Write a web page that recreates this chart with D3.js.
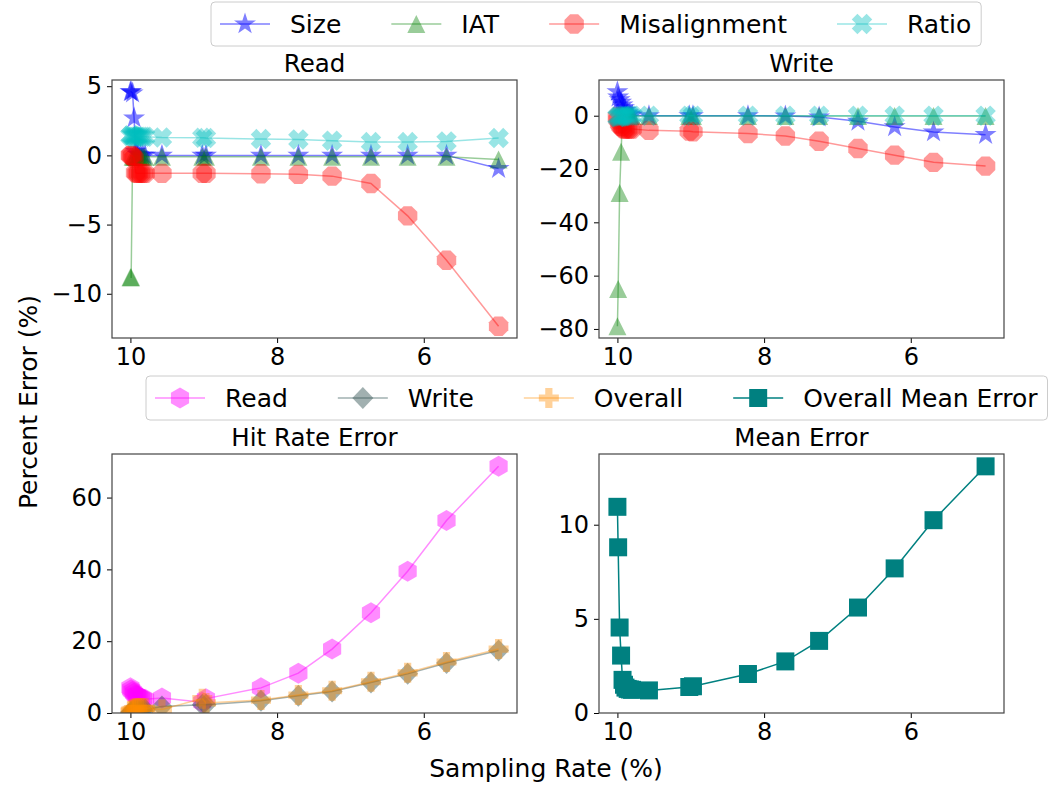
<!DOCTYPE html>
<html>
<head>
<meta charset="utf-8">
<script src="https://cdn.jsdelivr.net/npm/d3@7"></script>
<style>
  body { margin: 0; background: #fff; }
  text { font-family: "DejaVu Sans", sans-serif; }
</style>
</head>
<body>
<svg id="chart"></svg>
<script>
const width = 1051;
const height = 786;
const fontSize = 24;
const legendFont = 25;

// sampling rate (%) for every run, left to right
const samplingRate = [10.0, 9.99, 9.97, 9.95, 9.93, 9.91, 9.89, 9.86, 9.83, 9.8, 9.57, 9.02, 8.97, 8.22, 7.71, 7.25, 6.72, 6.22, 5.69, 4.98];

const readSize = [4.6, 4.6, 4.5, 2.7, 0.3, 0.1, 0.05, 0, 0, 0, 0, 0, 0, 0, 0, 0, 0, 0, 0, -0.95];
const readIat = [-8.8, -8.8, -0.1, -0.1, -0.1, -0.1, -0.1, -0.1, -0.1, -0.1, -0.1, -0.1, -0.1, -0.1, -0.1, -0.1, -0.1, -0.1, -0.1, -0.3];
const readMisalignment = [0, 0, -0.05, -0.2, -1.25, -1.3, -1.3, -1.3, -1.3, -1.3, -1.3, -1.3, -1.3, -1.33, -1.37, -1.5, -2.03, -4.37, -7.58, -12.35];
const readRatio = [1.4, 1.45, 1.4, 1.35, 1.35, 1.35, 1.35, 1.35, 1.35, 1.35, 1.3, 1.27, 1.25, 1.18, 1.15, 1.06, 0.96, 0.96, 1.01, 1.25];

const writeSize = [9.0, 7.0, 6.0, 5.0, 4.0, 3.0, 2.0, 1.0, 0.5, 0.2, 0, 0, 0, 0, -0.1, -0.5, -2.1, -4.2, -6.1, -7.1];
const writeIat = [-79, -65, -29, -13.5, -0.5, -0.3, -0.2, -0.1, -0.1, -0.1, -0.1, -0.1, -0.1, -0.1, -0.1, -0.1, -0.1, -0.1, -0.1, -0.1];
const writeMisalignment = [-0.5, -1.5, -3.0, -4.0, -4.5, -5.0, -5.0, -5.0, -5.0, -5.0, -5.5, -5.8, -6.0, -6.7, -7.6, -9.6, -12.3, -14.8, -17.5, -18.9];
const writeRatio = [-0.5, -0.5, -0.4, -0.3, -0.2, -0.1, 0, 0, 0, 0, 0, 0, 0, 0, 0, 0, 0, 0, 0, 0];

const hitRead = [7.0, 6.5, 6.0, 5.5, 5.0, 4.8, 4.5, 4.2, 4.0, 3.8, 4.2, 3.0, 4.0, 7.0, 11.1, 17.8, 27.9, 39.5, 53.6, 68.7];
const hitWrite = [0.2, 0.3, 0.5, 0.6, 0.7, 0.8, 0.8, 0.8, 0.9, 0.9, 1.8, 2.3, 2.3, 3.4, 4.8, 6.0, 8.5, 10.9, 13.9, 17.4];
const hitOverall = [0.5, 0.8, 1.0, 1.2, 1.3, 1.3, 1.3, 1.3, 1.3, 1.3, 1.0, 4.0, 2.8, 3.6, 5.0, 6.2, 8.7, 11.2, 14.2, 17.8];
const meanError = [10.95, 8.8, 4.54, 3.05, 1.76, 1.5, 1.35, 1.28, 1.25, 1.23, 1.2, 1.38, 1.42, 2.07, 2.74, 3.83, 5.6, 7.68, 10.24, 13.1];

const xTicks = [10, 8, 6];
const readTicks = [5, 0, -5, -10];
const writeTicks = [0, -20, -40, -60, -80];
const hitTicks = [0, 20, 40, 60];
const meanTicks = [0, 5, 10];

const svg = d3.select('#chart')
    .attr('width', width)
    .attr('height', height);

function polygon(n, r, rot) {
    const pts = d3.range(n).map(i => {
        const a = -Math.PI / 2 + rot + i * 2 * Math.PI / n;
        return [r * Math.cos(a), r * Math.sin(a)];
    });
    return 'M' + pts.map(p => p.join(',')).join('L') + 'Z';
}

function plusPath(l, w) {
    return `M${-w},${-l}H${w}V${-w}H${l}V${w}H${w}V${l}H${-w}V${w}H${-l}V${-w}H${-w}Z`;
}

const markers = {
    star: { d: d3.symbol(d3.symbolStar, 150)(), rot: 0 },
    triangle: { d: 'M0,-9L9,9L-9,9Z', rot: 0 },
    octagon: { d: polygon(8, 10.5, Math.PI / 8), rot: 0 },
    x: { d: plusPath(10.5, 4), rot: 45 },
    hexagon: { d: polygon(6, 10.5, 0), rot: 0 },
    diamond: { d: 'M0,-11L10.5,0L0,11L-10.5,0Z', rot: 0 },
    plus: { d: plusPath(10, 3.6), rot: 0 },
    square: { d: 'M-9,-9H9V9H-9Z', rot: 0 }
};

const sizeStyle = { name: 'Size', color: '#0000ff', alpha: 0.5, marker: 'star' };
const iatStyle = { name: 'IAT', color: '#008000', alpha: 0.4, marker: 'triangle' };
const misStyle = { name: 'Misalignment', color: '#ff0000', alpha: 0.4, marker: 'octagon' };
const ratioStyle = { name: 'Ratio', color: '#00bfbf', alpha: 0.4, marker: 'x' };
const readStyle = { name: 'Read', color: '#ff00ff', alpha: 0.45, marker: 'hexagon' };
const writeStyle = { name: 'Write', color: '#2f4f4f', alpha: 0.45, marker: 'diamond' };
const overallStyle = { name: 'Overall', color: '#ff8c00', alpha: 0.4, marker: 'plus' };
const meanStyle = { name: 'Overall Mean Error', color: '#008080', alpha: 1, marker: 'square' };

const xPad = (d3.max(samplingRate) - d3.min(samplingRate)) * 0.05;
const xDomain = [d3.max(samplingRate) + xPad, d3.min(samplingRate) - xPad];

const panels = [
    { id: 'tl', title: 'Read', left: 112, top: 80, w: 405, h: 258, ticks: readTicks, zeroBase: false,
      series: [[sizeStyle, readSize], [iatStyle, readIat], [misStyle, readMisalignment], [ratioStyle, readRatio]] },
    { id: 'tr', title: 'Write', left: 599, top: 80, w: 405, h: 258, ticks: writeTicks, zeroBase: false,
      series: [[sizeStyle, writeSize], [iatStyle, writeIat], [misStyle, writeMisalignment], [ratioStyle, writeRatio]] },
    { id: 'bl', title: 'Hit Rate Error', left: 112, top: 454, w: 405, h: 259, ticks: hitTicks, zeroBase: true,
      series: [[readStyle, hitRead], [writeStyle, hitWrite], [overallStyle, hitOverall]] },
    { id: 'br', title: 'Mean Error', left: 599, top: 454, w: 405, h: 259, ticks: meanTicks, zeroBase: true,
      series: [[meanStyle, meanError]] }
];

function drawMarker(sel, st) {
    const m = markers[st.marker];
    return sel.attr('d', m.d)
        .attr('fill', st.color)
        .attr('fill-opacity', st.alpha)
        .attr('stroke', 'none');
}

panels.forEach(p => {
    const g = svg.append('g');
    const x = d3.scaleLinear().domain(xDomain).range([p.left, p.left + p.w]);
    const all = p.series.flatMap(s => s[1]);
    const lo = d3.min(all), hi = d3.max(all);
    const yDomain = p.zeroBase ? [0, hi * 1.05] : [lo - (hi - lo) * 0.05, hi + (hi - lo) * 0.05];
    const y = d3.scaleLinear().domain(yDomain).range([p.top + p.h, p.top]);

    svg.append('clipPath').attr('id', 'clip-' + p.id)
        .append('rect').attr('x', p.left).attr('y', p.top).attr('width', p.w).attr('height', p.h);

    const plot = g.append('g').attr('clip-path', `url(#clip-${p.id})`);

    p.series.forEach(([st, values]) => {
        const pts = samplingRate.map((r, i) => [r, values[i]]);
        plot.append('path').datum(pts)
            .attr('fill', 'none')
            .attr('stroke', st.color)
            .attr('stroke-opacity', st.alpha)
            .attr('stroke-width', 1.5)
            .attr('d', d3.line().x(d => x(d[0])).y(d => y(d[1])));
        plot.selectAll(null).data(pts).join('path')
            .attr('transform', d => `translate(${x(d[0])},${y(d[1])}) rotate(${markers[st.marker].rot})`)
            .call(drawMarker, st);
    });

    const xAxis = g.append('g').attr('transform', `translate(0,${p.top + p.h})`)
        .call(d3.axisBottom(x).tickValues(xTicks).tickSize(5).tickPadding(5).tickFormat(d3.format('d')));
    const yAxis = g.append('g').attr('transform', `translate(${p.left},0)`)
        .call(d3.axisLeft(y).tickValues(p.ticks).tickSize(5).tickPadding(5).tickFormat(d3.format('d')));
    [xAxis, yAxis].forEach(a => {
        a.select('.domain').remove();
        a.selectAll('text').attr('font-size', fontSize).attr('fill', '#000')
            .style('font-family', '"DejaVu Sans", sans-serif');
        a.selectAll('line').attr('stroke', '#000').attr('stroke-width', 1);
    });

    g.append('rect')
        .attr('x', p.left).attr('y', p.top).attr('width', p.w).attr('height', p.h)
        .attr('fill', 'none').attr('stroke', '#444').attr('stroke-width', 1.2);

    g.append('text')
        .attr('x', p.left + p.w / 2).attr('y', p.top - 8)
        .attr('text-anchor', 'middle').attr('font-size', 24.5)
        .text(p.title);
});

function legend(left, top, items) {
    const g = svg.append('g');
    const box = g.append('rect');
    const handle = 2 * legendFont, textPad = 0.8 * legendFont, colSpace = 2 * legendFont;
    const mid = top + 22;
    let cx = left + 9;
    items.forEach(st => {
        g.append('line')
            .attr('x1', cx).attr('x2', cx + handle).attr('y1', mid).attr('y2', mid)
            .attr('stroke', st.color).attr('stroke-opacity', st.alpha).attr('stroke-width', 1.5);
        g.append('path')
            .attr('transform', `translate(${cx + handle / 2},${mid}) rotate(${markers[st.marker].rot})`)
            .call(drawMarker, st);
        const t = g.append('text')
            .attr('x', cx + handle + textPad).attr('y', mid).attr('dy', '0.36em')
            .attr('font-size', legendFont).text(st.name);
        cx += handle + textPad + t.node().getComputedTextLength() + colSpace;
    });
    box.attr('x', left).attr('y', top).attr('rx', 4)
        .attr('width', cx - colSpace + 10 - left).attr('height', 44)
        .attr('fill', '#fff').attr('fill-opacity', 0.8)
        .attr('stroke', '#cccccc').attr('stroke-width', 1);
}

legend(211, 2, [sizeStyle, iatStyle, misStyle, ratioStyle]);
legend(146, 376, [readStyle, writeStyle, overallStyle, meanStyle]);

svg.append('text')
    .attr('transform', 'translate(37,402) rotate(-90)')
    .attr('text-anchor', 'middle').attr('font-size', legendFont)
    .text('Percent Error (%)');

svg.append('text')
    .attr('x', 546).attr('y', 777)
    .attr('text-anchor', 'middle').attr('font-size', legendFont)
    .text('Sampling Rate (%)');
</script>
</body>
</html>
